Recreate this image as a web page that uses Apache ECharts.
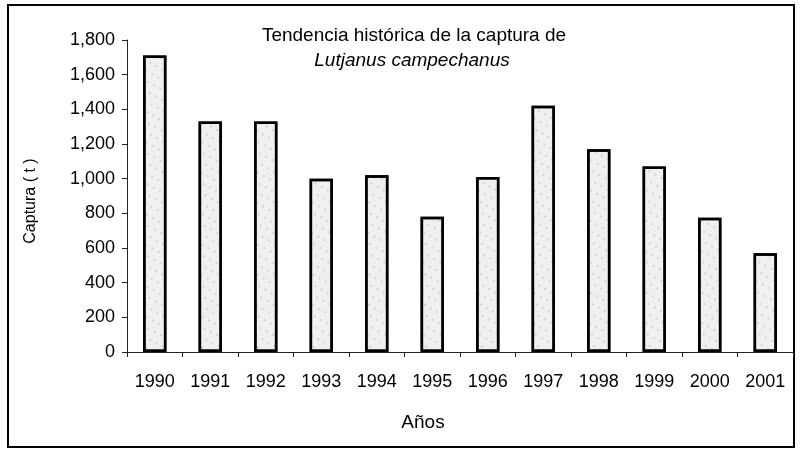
<!DOCTYPE html>
<html>
<head>
<meta charset="utf-8">
<script src="https://cdn.jsdelivr.net/npm/echarts@6/dist/echarts.min.js"></script>
<style>
  html, body { margin: 0; padding: 0; background: #fff; }
  #chart { width: 800px; height: 452px; }
</style>
</head>
<body>
<div id="chart"></div>
<script>
// datos
var years = ['1990', '1991', '1992', '1993', '1994', '1995', '1996', '1997', '1998', '1999', '2000', '2001']
var captura = [1710, 1330, 1330, 1000, 1020, 780, 1010, 1420, 1170, 1070, 775, 570]
var yTicks = { min: 0, max: 1800, interval: 200 }

var font = 'Liberation Sans, Arial, sans-serif'
var myChart = echarts.init(document.getElementById('chart'))

myChart.setOption({
  animation: false,
  backgroundColor: '#fff',
  grid: {
    left: 127,
    right: 7,
    top: 40,
    bottom: 100
  },
  xAxis: {
    type: 'category',
    data: years,
    axisLine: { lineStyle: { color: '#222', width: 1 } },
    axisTick: { show: true, length: 5, lineStyle: { color: '#222' } },
    axisLabel: { color: '#000', fontSize: 18, fontFamily: font, margin: 21 }
  },
  yAxis: {
    type: 'value',
    min: yTicks.min,
    max: yTicks.max,
    interval: yTicks.interval,
    splitLine: { show: false },
    axisLine: { show: true, lineStyle: { color: '#222', width: 1 } },
    axisTick: { show: true, inside: false, length: 5, lineStyle: { color: '#222' } },
    axisLabel: {
      color: '#000',
      fontSize: 18,
      fontFamily: font,
      margin: 12,
      formatter: function (v) { return v.toLocaleString('en-US') }
    }
  },
  series: [
    {
      type: 'bar',
      data: captura,
      barWidth: '42%',
      itemStyle: {
        color: '#f0f0f0',
        borderColor: '#000',
        borderWidth: 2.5,
        decal: {
          symbol: 'rect',
          symbolSize: 0.5,
          color: 'rgba(0,0,0,0.5)',
          dashArrayX: [2, 5],
          dashArrayY: [2, 7],
          rotation: 0.5
        }
      }
    }
  ],
  graphic: [
    {
      type: 'rect',
      shape: { x: 8, y: 5, width: 786, height: 442 },
      style: { fill: null, stroke: '#000', lineWidth: 2 },
      silent: true
    },
    {
      type: 'text',
      x: 414,
      y: 36,
      style: {
        text: 'Tendencia histórica de la captura de',
        fill: '#000',
        font: '19px ' + font,
        align: 'center',
        verticalAlign: 'middle'
      }
    },
    {
      type: 'text',
      x: 412,
      y: 61,
      style: {
        text: 'Lutjanus campechanus',
        fill: '#000',
        font: 'italic 19px ' + font,
        align: 'center',
        verticalAlign: 'middle'
      }
    },
    {
      type: 'text',
      x: 423,
      y: 423,
      style: {
        text: 'Años',
        fill: '#000',
        font: '19px ' + font,
        align: 'center',
        verticalAlign: 'middle'
      }
    },
    {
      type: 'text',
      x: 31,
      y: 201,
      rotation: Math.PI / 2,
      style: {
        text: 'Captura ( t )',
        fill: '#000',
        font: '16px ' + font,
        align: 'center',
        verticalAlign: 'middle'
      }
    }
  ]
})
</script>
</body>
</html>
